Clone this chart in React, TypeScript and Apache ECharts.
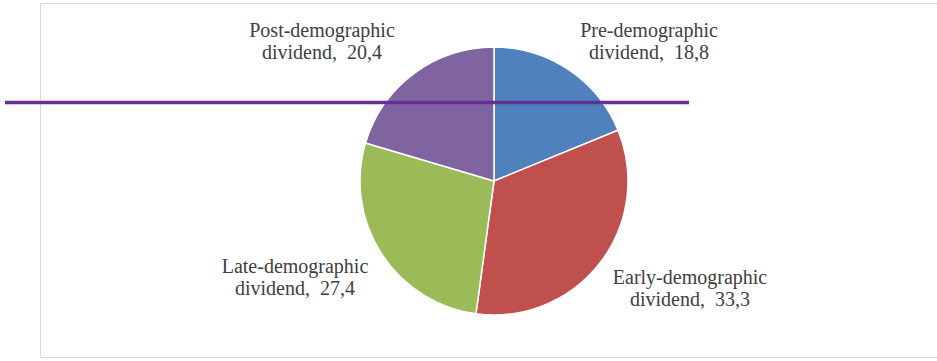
import React, { useEffect, useRef } from "react";
import * as echarts from "echarts";

const categories = ["Pre-demographic", "Early-demographic", "Late-demographic", "Post-demographic"];
const values = [18.8, 33.3, 27.4, 20.4];
const colors = ["#4F81BD", "#C0504D", "#9BBB59", "#8064A2"];
const labelPos: [number, number][] = [
  [649, 41],
  [690, 288],
  [295, 277],
  [322, 41],
];

export default function App() {
  const ref = useRef<HTMLDivElement>(null);
  useEffect(() => {
    document.body.style.margin = "0";
    const chart = echarts.init(ref.current!, null, { renderer: "svg" });
    chart.setOption({
      animation: false,
      backgroundColor: "#ffffff",
      textStyle: { fontFamily: "Liberation Serif" },
      graphic: [
        {
          type: "rect",
          shape: { x: 40.5, y: 3.5, width: 920, height: 354 },
          style: { fill: "none", stroke: "#d9d9d9", lineWidth: 1 },
          z: 0,
        },
        {
          type: "line",
          shape: { x1: 5, y1: 102.5, x2: 689, y2: 102.5 },
          style: { stroke: "#652f96", lineWidth: 3.5 },
          z: 100,
        },
      ],
      series: [
        {
          type: "pie",
          center: [494, 181],
          radius: 134,
          startAngle: 90,
          clockwise: true,
          itemStyle: { borderColor: "#ffffff", borderWidth: 1.5 },
          label: {
            show: true,
            position: "outside",
            formatter: (p: any) => `${p.name}\ndividend,  ${String(p.value).replace(".", ",")}`,
            fontFamily: "Liberation Serif",
            fontSize: 20,
            lineHeight: 22.5,
            color: "#404040",
            align: "center",
          },
          labelLine: { show: false },
          labelLayout: (params: any) => {
            const pos = labelPos[params.dataIndex];
            return { x: pos[0], y: pos[1], align: "center", verticalAlign: "middle" };
          },
          data: categories.map((c, i) => ({ name: c, value: values[i], itemStyle: { color: colors[i] } })),
        },
      ],
    });
    return () => chart.dispose();
  }, []);
  return <div ref={ref} style={{ width: 937, height: 361 }} />;
}
